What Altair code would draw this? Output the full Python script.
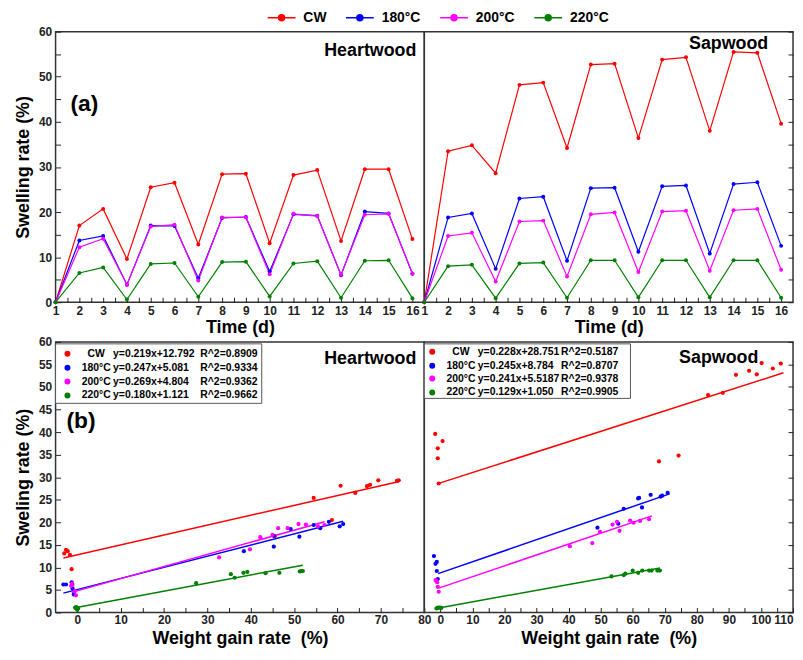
import altair as alt
import pandas as pd

FONT = "Liberation Sans"
series = ["CW", "180°C", "200°C", "220°C"]
colors = ["#ff0000", "#0000ff", "#ff00ff", "#008000"]
days = list(range(1, 17))

# ---- (a) swelling rate vs time ----
heart_cw = [0, 17.0, 20.7, 9.6, 25.5, 26.5, 12.8, 28.4, 28.5, 13.1, 28.2, 29.3, 13.6, 29.5, 29.5, 14.0]
heart_180 = [0, 13.7, 14.7, 3.9, 17.0, 16.9, 5.3, 18.7, 18.9, 6.8, 19.5, 19.2, 6.0, 20.1, 19.7, 6.3]
heart_200 = [0, 12.2, 14.1, 3.9, 16.8, 17.2, 4.8, 18.8, 18.8, 6.2, 19.6, 19.1, 6.1, 19.4, 19.6, 6.4]
heart_220 = [0, 6.5, 7.7, 0.6, 8.5, 8.7, 1.2, 8.9, 9.0, 1.3, 8.6, 9.1, 1.0, 9.2, 9.3, 0.9]

sap_cw = [0, 33.5, 34.8, 28.6, 48.2, 48.7, 34.2, 52.7, 52.9, 36.4, 53.8, 54.3, 38.0, 55.5, 55.3, 39.6]
sap_180 = [0, 18.8, 19.7, 7.4, 23.0, 23.4, 9.2, 25.3, 25.4, 11.2, 25.7, 25.9, 10.8, 26.2, 26.6, 12.5]
sap_200 = [0, 14.7, 15.4, 4.6, 17.9, 18.1, 5.7, 19.5, 19.9, 6.7, 20.1, 20.3, 7.0, 20.4, 20.7, 7.2]
sap_220 = [0, 8.0, 8.3, 0.9, 8.6, 8.8, 1.0, 9.3, 9.3, 1.1, 9.3, 9.3, 1.1, 9.3, 9.3, 1.0]

# ---- (b) swelling rate vs weight gain rate ----
hw_cw_x = [-3.0, -2.6, -2.2, -1.7, -1.3, 45.5, 54.5, 58.7, 60.7, 64.1, 66.8, 67.5, 69.4, 73.7, 74.1]
hw_cw_y = [13.1, 13.9, 13.6, 12.8, 9.6, 16.9, 25.4, 20.5, 28.1, 26.5, 28.0, 28.3, 29.3, 29.2, 29.3]
hw_180_x = [-3.2, -2.6, -1.3, -1.1, -0.8, 38.4, 45.3, 45.3, 51.2, 49.2, 56.0, 54.5, 60.5, 58.0, 61.3]
hw_180_y = [6.2, 6.2, 6.7, 5.3, 4.0, 13.6, 14.6, 17.0, 16.8, 18.5, 18.7, 19.4, 19.1, 20.1, 19.6]
hw_200_x = [-1.4, -1.2, -1.1, -0.6, -0.3, 32.7, 39.8, 42.2, 45.0, 46.3, 48.5, 51.0, 52.7, 55.5, 57.0]
hw_200_y = [5.9, 6.4, 6.1, 4.7, 3.8, 12.2, 14.0, 16.7, 17.2, 18.7, 18.7, 19.6, 19.5, 19.1, 19.4]
hw_220_x = [-0.5, -0.3, -0.2, 0.0, 0.2, 27.4, 35.4, 36.3, 38.3, 39.2, 43.4, 46.6, 51.3, 51.7, 52.0]
hw_220_y = [1.1, 0.9, 1.2, 0.6, 0.9, 6.5, 8.5, 7.7, 8.8, 9.0, 8.7, 8.8, 9.1, 9.2, 9.2]

sw_cw_x = [-0.5, -0.8, -0.8, 0.7, -1.6, 68.2, 74.3, 83.5, 88.1, 92.2, 96.3, 98.7, 100.2, 103.7, 106.2]
sw_cw_y = [28.6, 34.2, 36.4, 38.0, 39.6, 33.5, 34.8, 48.2, 48.7, 52.7, 53.6, 52.8, 55.3, 54.1, 55.2]
sw_180_x = [-2.0, -1.5, -1.1, -1.1, -0.8, 49.0, 55.5, 57.2, 62.9, 61.7, 62.0, 68.7, 69.2, 65.6, 70.9]
sw_180_y = [12.5, 10.8, 11.2, 9.2, 7.4, 18.8, 19.7, 23.0, 23.3, 25.3, 25.4, 25.7, 25.9, 26.1, 26.5]
sw_200_x = [-1.5, -1.2, -1.0, -0.8, -0.5, 40.4, 47.4, 49.8, 55.9, 53.7, 60.3, 55.1, 62.3, 59.2, 65.1]
sw_200_y = [7.2, 7.0, 6.7, 5.7, 4.6, 14.7, 15.4, 17.9, 18.1, 19.5, 19.9, 20.1, 20.3, 20.4, 20.7]
sw_220_x = [-1.2, -0.8, -0.5, 0.0, 0.3, 53.4, 57.2, 57.7, 61.7, 60.0, 63.0, 65.1, 65.9, 67.7, 68.5]
sw_220_y = [0.9, 1.0, 1.1, 1.1, 1.0, 8.0, 8.3, 8.6, 8.8, 9.3, 9.3, 9.3, 9.3, 9.3, 9.3]

hw_slope = [0.219, 0.247, 0.269, 0.180]
hw_icpt = [12.792, 5.081, 4.804, 1.121]
hw_xmin = [-3.2, -3.2, -1.3, -0.5]
hw_xmax = [74.0, 61.3, 57.0, 52.0]
hw_eq = ["y=0.219x+12.792", "y=0.247x+5.081", "y=0.269x+4.804", "y=0.180x+1.121"]
hw_r2 = ["R^2=0.8909", "R^2=0.9334", "R^2=0.9362", "R^2=0.9662"]

sw_slope = [0.228, 0.245, 0.241, 0.129]
sw_icpt = [28.751, 8.784, 5.5187, 1.050]
sw_xmin = [-0.5, -0.7, -0.5, -0.5]
sw_xmax = [107.0, 71.5, 66.0, 68.5]
sw_eq = ["y=0.228x+28.751", "y=0.245x+8.784", "y=0.241x+5.5187", "y=0.129x+1.050"]
sw_r2 = ["R^2=0.5187", "R^2=0.8707", "R^2=0.9378", "R^2=0.9905"]

W = 372
H_TOP = 273
H_BOT = 273

legend = alt.Legend(
    orient="none", legendX=221, legendY=-21, direction="horizontal", title=None,
    symbolType="M-2.8,0L2.8,0M0.6,0A0.6,0.6,0,1,1,-0.6,0A0.6,0.6,0,1,1,0.6,0Z",
    symbolSize=100, symbolStrokeWidth=1.5, symbolOpacity=1,
    symbolStrokeColor={"expr": "scale('color', datum.value)"},
    labelFont=FONT, labelFontWeight="bold", labelFontSize=14, labelColor="black",
    labelOffset=15, columnPadding=16,
)
color = alt.Color("series:N", scale=alt.Scale(domain=series, range=colors), legend=legend)


def axis(**kw):
    base = dict(domain=False, grid=False, offset=-5, tickSize=5, tickColor="#222", tickWidth=1,
                labelFont=FONT, labelFontWeight="bold", labelFontSize=12, labelColor="#222",
                titleFont=FONT, titleFontWeight="bold", titleFontSize=18, titleColor="black")
    base.update(kw)
    return alt.Axis(**base)


def text_layer(txt, x, y, size, align="left"):
    return alt.Chart(pd.DataFrame({"t": [txt]})).mark_text(
        font=FONT, fontWeight="bold", fontSize=size, align=align, baseline="middle", color="black"
    ).encode(text="t:N", x=alt.value(x), y=alt.value(y))


half_days = [1 + 0.5 * i for i in range(31)]


def top_panel(vals, name, left, name_x, name_y):
    rows = [{"day": d, "val": v, "series": s}
            for s, arr in zip(series, vals) for d, v in zip(days, arr)]
    df = pd.DataFrame(rows)
    x = alt.X("day:Q", scale=alt.Scale(domain=[1, 16.5], nice=False, zero=False),
              axis=axis(values=half_days, title="Time (d)", labelPadding=3, titlePadding=3,
                        labelFlush=False,
                        labelExpr="datum.value % 1 == 0 ? format(datum.value, 'd') : ''"))
    if left:
        y = alt.Y("val:Q", scale=alt.Scale(domain=[0, 60], nice=False),
                  axis=axis(values=list(range(0, 61, 5)), title="Swelling rate (%)",
                            labelPadding=4, titlePadding=6,
                            labelExpr="datum.value % 10 == 0 ? datum.label : ''"))
    else:
        y = alt.Y("val:Q", scale=alt.Scale(domain=[0, 60], nice=False),
                  axis=axis(orient="right", values=list(range(0, 61, 5)), labels=False, title=None))
    line = alt.Chart(df).mark_line(strokeWidth=1.2).encode(x=x, y=y, color=color)
    pts = alt.Chart(df).mark_point(filled=True, size=16, opacity=1).encode(x=x, y=y, color=color)
    layers = [line, pts, text_layer(name, name_x, name_y, 18, "right")]
    if left:
        layers.append(text_layer("(a)", 15, 73, 23))
    return alt.layer(*layers).properties(width=W, height=H_TOP)


def bottom_panel(xs, ys, slopes, icpts, xmins, xmaxs, eqs, r2s, name, left, box):
    rows = []
    for s, xa, ya in zip(series, xs, ys):
        for a, b in zip(xa, ya):
            rows.append({"wg": a, "sw": b, "series": s})
    df = pd.DataFrame(rows)
    lrows = []
    for s, m, c, x0, x1 in zip(series, slopes, icpts, xmins, xmaxs):
        lrows.append({"wg": x0, "slope": m, "icpt": c, "series": s})
        lrows.append({"wg": x1, "slope": m, "icpt": c, "series": s})
    ldf = pd.DataFrame(lrows)
    if left:
        x = alt.X("wg:Q", scale=alt.Scale(domain=[-5, 80], nice=False, zero=False),
                  axis=axis(values=list(range(0, 81, 5)), title="Weight gain rate \u00a0(%)",
                            labelPadding=2, titlePadding=4, labelFlush=False,
                            labelExpr="datum.value % 10 == 0 ? datum.label : ''"))
        y = alt.Y("sw:Q", scale=alt.Scale(domain=[0, 60], nice=False),
                  axis=axis(values=list(range(0, 61, 5)), title="Sweling rate (%)",
                            labelPadding=4, titlePadding=6))
    else:
        x = alt.X("wg:Q", scale=alt.Scale(domain=[-5, 110], nice=False, zero=False),
                  axis=axis(values=list(range(0, 111, 5)), title="Weight gain rate \u00a0(%)",
                            labelPadding=2, titlePadding=4, labelFlush=1,
                            labelExpr="datum.value % 10 == 0 ? datum.label : ''"))
        y = alt.Y("sw:Q", scale=alt.Scale(domain=[0, 60], nice=False),
                  axis=axis(orient="right", values=list(range(0, 61, 5)), labels=False, title=None))
    reg = alt.Chart(ldf).transform_calculate(
        sw="datum.slope * datum.wg + datum.icpt"
    ).mark_line(strokeWidth=1.5).encode(x=x, y=y, color=color)
    pts = alt.Chart(df).mark_point(filled=True, size=18, opacity=1).encode(x=x, y=y, color=color)
    layers = [reg, pts]
    bx0, bx1, by0, by1, rows_y, dot_x, name_x, eq_x, r2_x = box
    rect = alt.Chart(pd.DataFrame({"a": [0]})).mark_rect(
        fill="white", stroke="#555", strokeWidth=1
    ).encode(x=alt.value(bx0), x2=alt.value(bx1), y=alt.value(by0), y2=alt.value(by1))
    layers.append(rect)
    for i, s in enumerate(series):
        dot = alt.Chart(pd.DataFrame({"t": [s]})).mark_circle(
            size=36, opacity=1, color=colors[i]
        ).encode(x=alt.value(dot_x), y=alt.value(rows_y[i]))
        layers.append(dot)
        layers.append(text_layer(s, name_x, rows_y[i], 10.5, "center"))
        layers.append(text_layer(eqs[i], eq_x, rows_y[i], 10.5, "left"))
        layers.append(text_layer(r2s[i], r2_x, rows_y[i], 10.5, "left"))
    if left:
        layers.append(text_layer(name, 364, 17, 18, "right"))
        layers.append(text_layer("(b)", 11, 80, 23))
    else:
        layers.append(text_layer(name, 337, 16, 18, "right"))
    return alt.layer(*layers).properties(width=W, height=H_BOT)


top_left = top_panel([heart_cw, heart_180, heart_200, heart_220], "Heartwood", True, 364, 20)
top_right = top_panel([sap_cw, sap_180, sap_200, sap_220], "Sapwood", False, 347, 13)

box_left = (0, 208, 2, 62, [12, 26, 40, 54], 12, 41, 58, 146)
box_right = (0, 208, 2, 57, [10, 24, 37, 51], 8, 37, 54, 138)

bot_left = bottom_panel([hw_cw_x, hw_180_x, hw_200_x, hw_220_x],
                        [hw_cw_y, hw_180_y, hw_200_y, hw_220_y],
                        hw_slope, hw_icpt, hw_xmin, hw_xmax, hw_eq, hw_r2,
                        "Heartwood", True, box_left)
bot_right = bottom_panel([sw_cw_x, sw_180_x, sw_200_x, sw_220_x],
                         [sw_cw_y, sw_180_y, sw_200_y, sw_220_y],
                         sw_slope, sw_icpt, sw_xmin, sw_xmax, sw_eq, sw_r2,
                         "Sapwood", False, box_right)

top = alt.hconcat(top_left, top_right, spacing=0, bounds="flush")
bottom = alt.hconcat(bot_left, bot_right, spacing=0, bounds="flush")

chart = alt.vconcat(top, bottom, spacing=-3).properties(
    padding={"left": 5, "top": 0, "right": 0, "bottom": 0},
    background="white",
).configure_view(stroke="#333", strokeWidth=1.5)

chart.save("out.html", embed_options={"renderer": "svg", "actions": False})
